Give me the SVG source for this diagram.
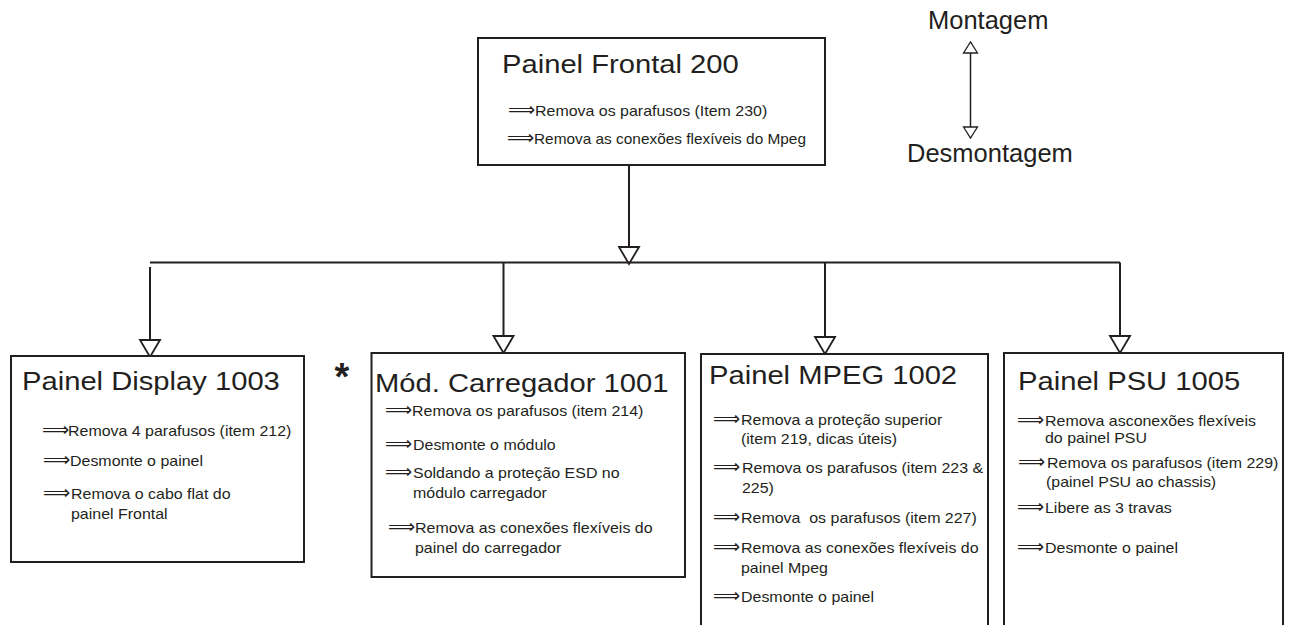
<svg xmlns="http://www.w3.org/2000/svg" width="1292" height="625" viewBox="0 0 1292 625">
<defs>
<style>
.t{font-family:"Liberation Sans",Arial,sans-serif;font-size:25.6px;fill:#231f20}
.m{font-family:"Liberation Sans",Arial,sans-serif;font-size:25.5px;fill:#231f20}
.b{font-family:"Liberation Sans",Arial,sans-serif;font-size:14px;fill:#231f20;white-space:pre}
.ar{font-family:"DejaVu Sans",sans-serif;font-size:19px;fill:#231f20}
.box{fill:#fff;stroke:#231f20;stroke-width:2}
.ln{fill:none;stroke:#231f20;stroke-width:2}
.thin{fill:none;stroke:#231f20;stroke-width:1.5}
</style>
<marker id="tri" markerUnits="userSpaceOnUse" markerWidth="22" markerHeight="24" viewBox="-1 -2 20 24" refX="17" refY="10" orient="auto">
<path d="M0,0 L17,10 L0,20 Z" fill="#fff" stroke="#231f20" stroke-width="1.8"/>
</marker>
<marker id="tris" markerUnits="userSpaceOnUse" markerWidth="14" markerHeight="18" viewBox="-1 -2 14 18" refX="11" refY="7" orient="auto-start-reverse">
<path d="M0,0 L11,7 L0,14 Z" fill="#fff" stroke="#231f20" stroke-width="1.3"/>
</marker>
</defs>
<rect width="1292" height="625" fill="#fff"/>

<g id="legend">
<text class="m" x="928" y="29">Montagem</text>
<line class="thin" x1="970.5" y1="42" x2="970.5" y2="138" marker-start="url(#tris)" marker-end="url(#tris)"/>
<text class="m" x="907" y="162">Desmontagem</text>
</g>

<g id="connectors">
<path class="ln" d="M629 165 V264" marker-end="url(#tri)"/>
<path class="ln" d="M150 262.5 H1120"/>
<path class="ln" d="M150 267 V357" marker-end="url(#tri)"/>
<path class="ln" d="M503.5 262.5 V353" marker-end="url(#tri)"/>
<path class="ln" d="M825 262.5 V354" marker-end="url(#tri)"/>
<path class="ln" d="M1120 262.5 V353" marker-end="url(#tri)"/>
</g>

<g id="painel-frontal">
<rect class="box" x="478" y="38" width="347" height="127"/>
<text class="t" transform="matrix(1.14 0 0 1 502 73)">Painel Frontal 200</text>
<text class="ar" x="508" y="116">⟹</text>
<text class="b" transform="matrix(1.14 0 0 1 535 116)">Remova os parafusos (Item 230)</text>
<text class="ar" x="507" y="144">⟹</text>
<text class="b" transform="matrix(1.1 0 0 1 534 144)">Remova as conexões flexíveis do Mpeg</text>
</g>

<g id="painel-display">
<rect class="box" x="11" y="356" width="293" height="206"/>
<text class="t" transform="matrix(1.14 0 0 1 22 390)">Painel Display 1003</text>
<text class="ar" x="42" y="436">⟹</text>
<text class="b" transform="matrix(1.14 0 0 1 68 436)">Remova 4 parafusos (item 212)</text>
<text class="ar" x="43" y="466">⟹</text>
<text class="b" transform="matrix(1.14 0 0 1 70 466)">Desmonte o painel</text>
<text class="ar" x="43" y="499">⟹</text>
<text class="b" transform="matrix(1.14 0 0 1 71 499)">Remova o cabo flat do</text>
<text class="b" transform="matrix(1.14 0 0 1 71 519)">painel Frontal</text>
</g>

<g id="asterisco">
<text x="342" y="390" text-anchor="middle" style="font-family:'Liberation Sans',Arial,sans-serif;font-size:38px;font-weight:bold;fill:#231f20">*</text>
</g>

<g id="mod-carregador">
<rect class="box" x="371.5" y="353" width="313.5" height="224"/>
<text class="t" transform="matrix(1.14 0 0 1 375 392)">Mód. Carregador 1001</text>
<text class="ar" x="385" y="416">⟹</text>
<text class="b" transform="matrix(1.14 0 0 1 412 416)">Remova os parafusos (item 214)</text>
<text class="ar" x="385" y="450">⟹</text>
<text class="b" transform="matrix(1.14 0 0 1 413 450)">Desmonte o módulo</text>
<text class="ar" x="385" y="478">⟹</text>
<text class="b" transform="matrix(1.14 0 0 1 413 478)">Soldando a proteção ESD no</text>
<text class="b" transform="matrix(1.14 0 0 1 413 498)">módulo carregador</text>
<text class="ar" x="388" y="533">⟹</text>
<text class="b" transform="matrix(1.14 0 0 1 415 533)">Remova as conexões flexíveis do</text>
<text class="b" transform="matrix(1.14 0 0 1 415 553)">painel do carregador</text>
</g>

<g id="painel-mpeg">
<rect class="box" x="701" y="354" width="287" height="290"/>
<text class="t" transform="matrix(1.14 0 0 1 709 384)">Painel MPEG 1002</text>
<text class="ar" x="713" y="425">⟹</text>
<text class="b" transform="matrix(1.14 0 0 1 741 425)">Remova a proteção superior</text>
<text class="b" transform="matrix(1.14 0 0 1 741 444)">(item 219, dicas úteis)</text>
<text class="ar" x="713" y="473">⟹</text>
<text class="b" transform="matrix(1.14 0 0 1 742 473)">Remova os parafusos (item 223 &amp;</text>
<text class="b" transform="matrix(1.14 0 0 1 742 493)">225)</text>
<text class="ar" x="713" y="523">⟹</text>
<text class="b" transform="matrix(1.14 0 0 1 741 523)">Remova  os parafusos (item 227)</text>
<text class="ar" x="713" y="553">⟹</text>
<text class="b" transform="matrix(1.14 0 0 1 741 553)">Remova as conexões flexíveis do</text>
<text class="b" transform="matrix(1.14 0 0 1 741 573)">painel Mpeg</text>
<text class="ar" x="713" y="602">⟹</text>
<text class="b" transform="matrix(1.14 0 0 1 741 602)">Desmonte o painel</text>
</g>

<g id="painel-psu">
<rect class="box" x="1004" y="353" width="279" height="290"/>
<text class="t" transform="matrix(1.14 0 0 1 1018 390)">Painel PSU 1005</text>
<text class="ar" x="1017" y="426">⟹</text>
<text class="b" transform="matrix(1.14 0 0 1 1045 426)">Remova asconexões flexíveis</text>
<text class="b" transform="matrix(1.14 0 0 1 1045 443)">do painel PSU</text>
<text class="ar" x="1018" y="468">⟹</text>
<text class="b" transform="matrix(1.14 0 0 1 1047 468)">Remova os parafusos (item 229)</text>
<text class="b" transform="matrix(1.14 0 0 1 1046 487)">(painel PSU ao chassis)</text>
<text class="ar" x="1017" y="513">⟹</text>
<text class="b" transform="matrix(1.14 0 0 1 1045 513)">Libere as 3 travas</text>
<text class="ar" x="1017" y="553">⟹</text>
<text class="b" transform="matrix(1.14 0 0 1 1045 553)">Desmonte o painel</text>
</g>
</svg>
